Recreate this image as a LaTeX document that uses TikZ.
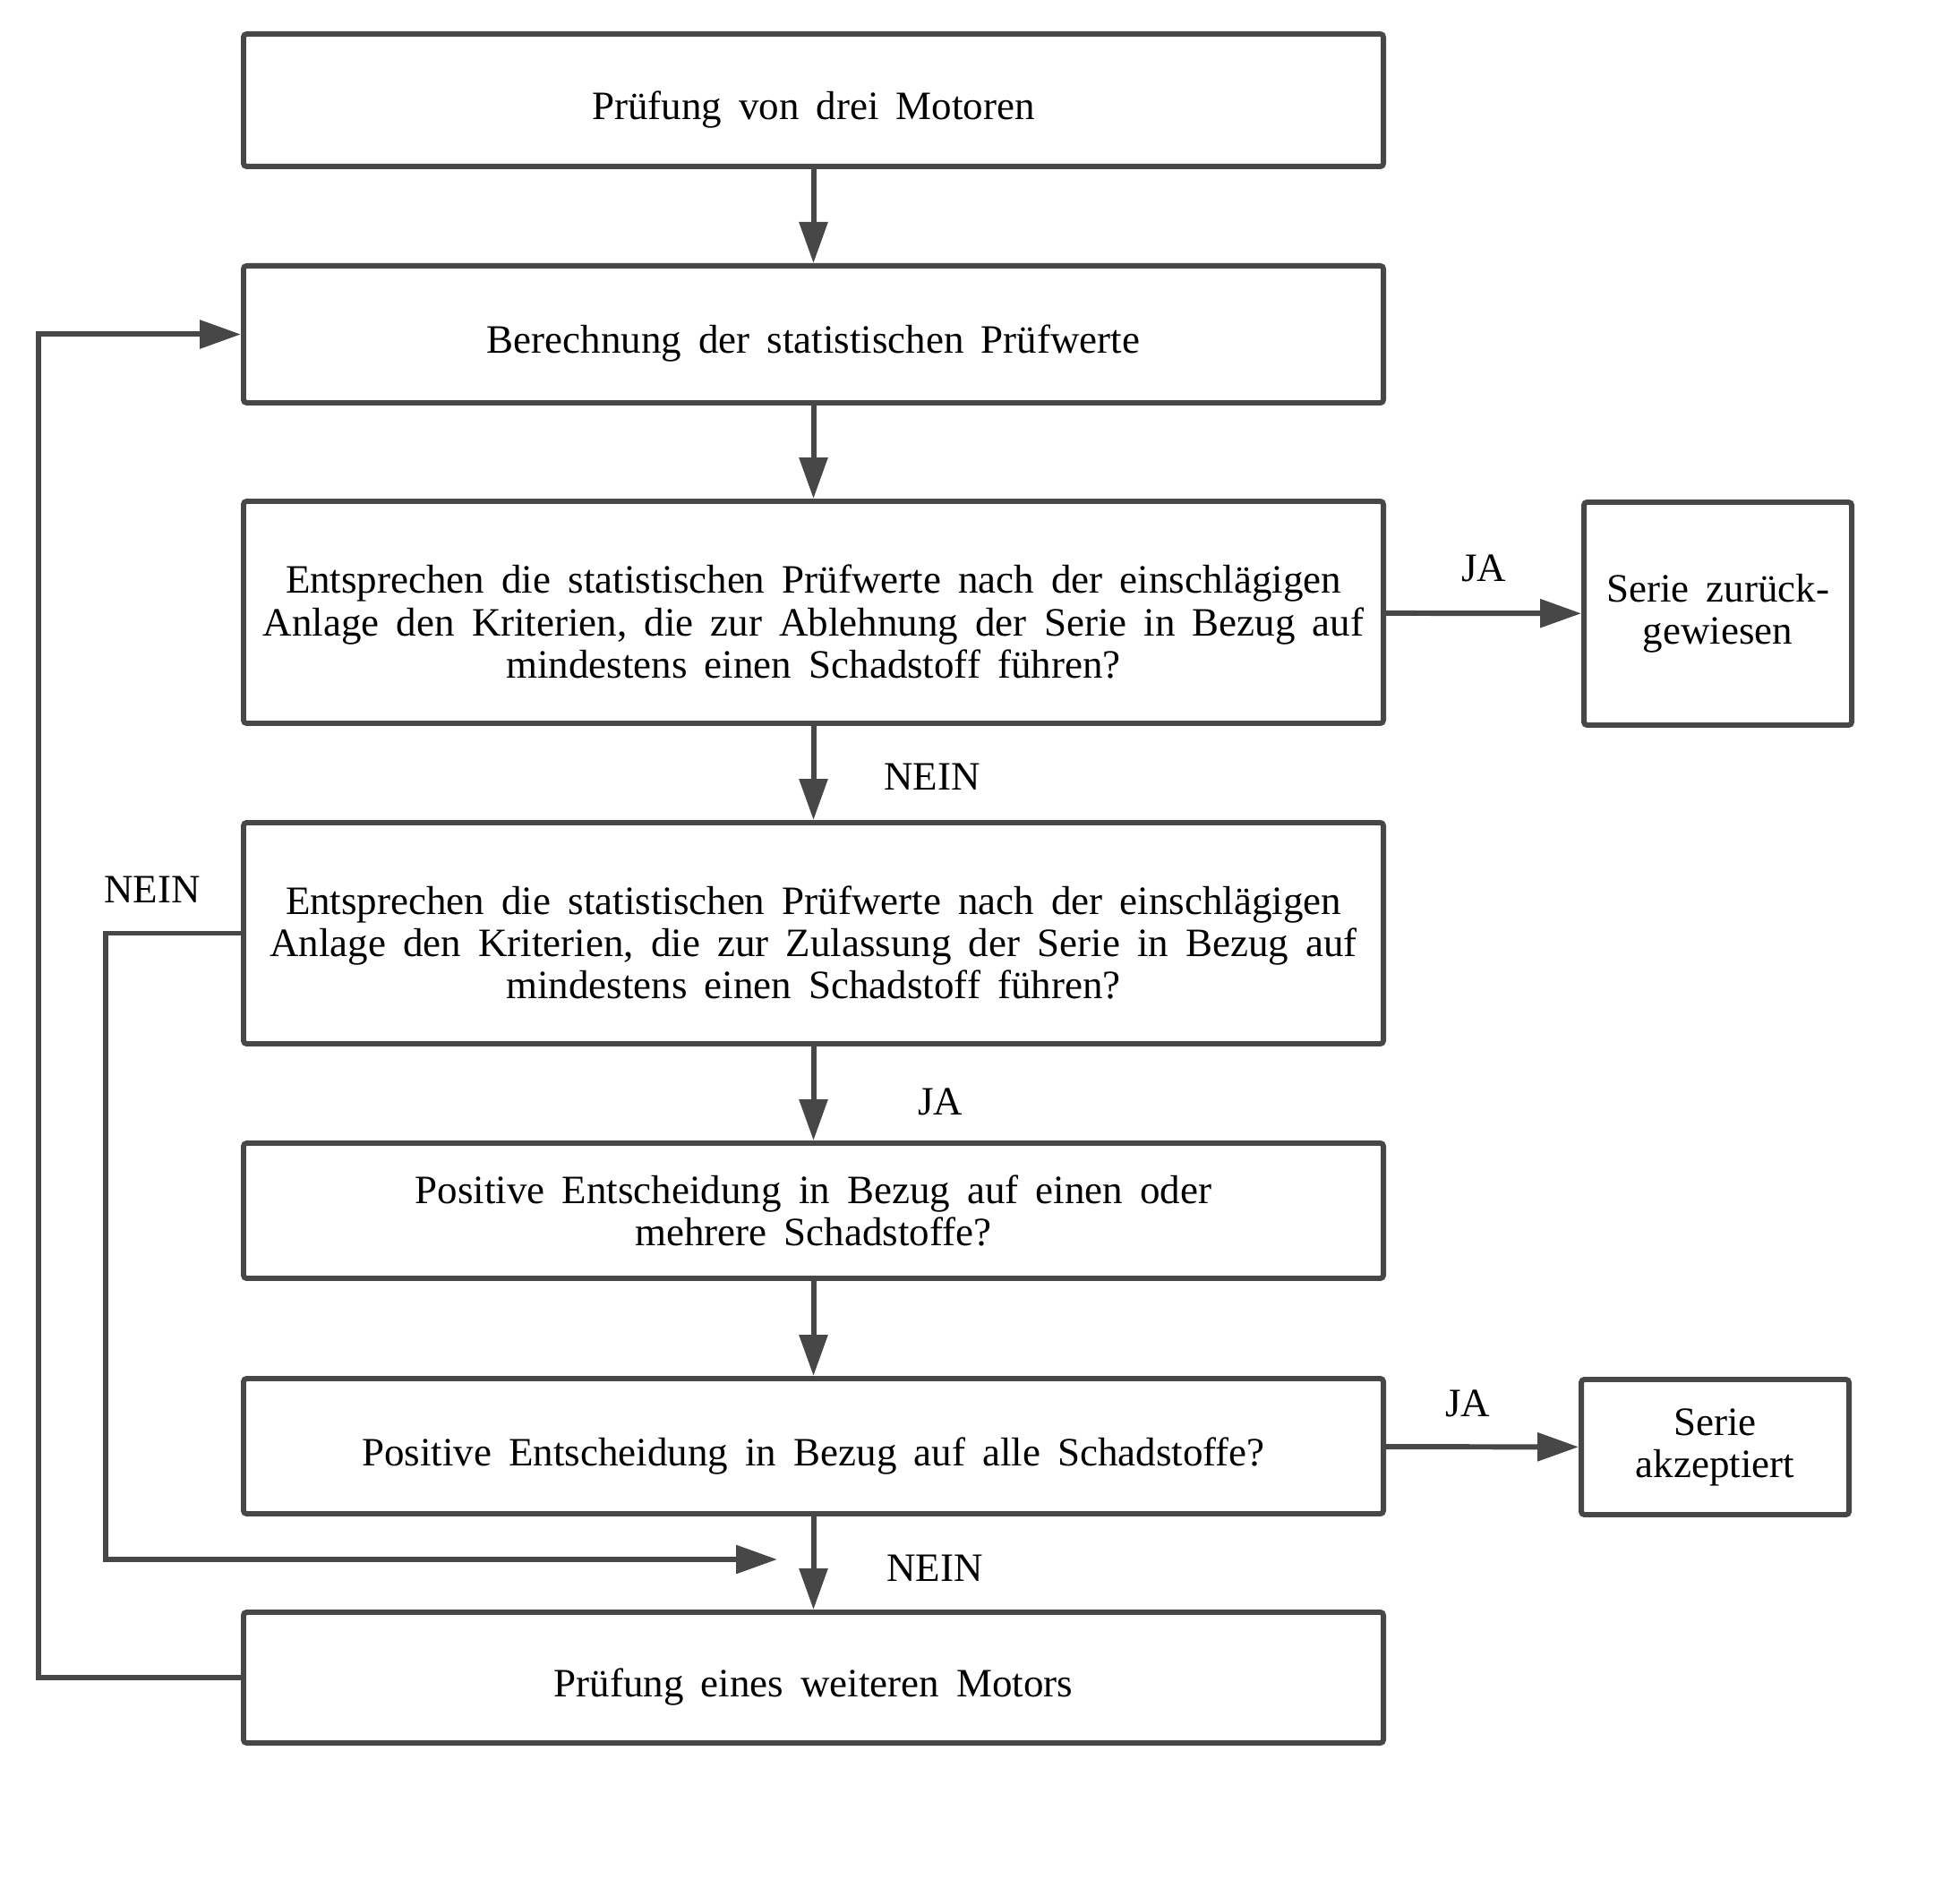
\documentclass[tikz,border=0pt]{standalone}
\usepackage{fontspec}
\setmainfont{Liberation Serif}[WordSpace=1.7]
\usepackage{tikz}
\usetikzlibrary{arrows.meta}
\newcommand{\topstrut}{\rule{0pt}{15pt}}
\tikzset{
  stepbox/.style  = {draw=black!72, line width=1.7pt, rounded corners=1pt,
                     minimum width=12.73cm, align=center, inner sep=0pt,
                     font=\fontsize{12.8}{13.4}\selectfont,
                     execute at begin node={\topstrut}},
  endbox/.style   = {stepbox, minimum width=2.99cm},
  flowar/.style   = {-{Triangle[length=4.6mm,width=3.1mm]}, draw=black!72,
                     line width=1.7pt},
  lbl/.style      = {font=\fontsize{12.8}{13.4}\selectfont}
}

\begin{document}
\begin{tikzpicture}
  \useasboundingbox (0,0) rectangle (21.89,20.98);
  \node[stepbox,minimum height=1.48cm] (d1) at (9.085,19.86)
        {Prüfung von drei Motoren};
  \node[stepbox,minimum height=1.53cm] (d2) at (9.085,17.245)
        {Berechnung der statistischen Prüfwerte};
  \node[stepbox,minimum height=2.48cm] (d3) at (9.085,14.14)
        {\topstrut Entsprechen die statistischen Prüfwerte nach der einschlägigen\\
         Anlage den Kriterien, die zur Ablehnung der Serie in Bezug auf\\
         mindestens einen Schadstoff führen?};
  \node[stepbox,minimum height=2.47cm] (d4) at (9.085,10.555)
        {\topstrut Entsprechen die statistischen Prüfwerte nach der einschlägigen\\
         Anlage den Kriterien, die zur Zulassung der Serie in Bezug auf\\
         mindestens einen Schadstoff führen?};
  \node[stepbox,minimum height=1.51cm] (d5) at (9.085,7.455)
        {Positive Entscheidung in Bezug auf einen oder\\
         mehrere Schadstoffe?};
  \node[stepbox,minimum height=1.51cm] (d6) at (9.085,4.825)
        {Positive Entscheidung in Bezug auf alle Schadstoffe?};
  \node[stepbox,minimum height=1.46cm] (d7) at (9.085,2.24)
        {Prüfung eines weiteren Motors};
  \node[endbox,minimum height=2.49cm] (rej) at (19.185,14.125)
        {Serie zurück-\\gewiesen};
  \node[endbox,minimum height=1.51cm] (acc) at (19.155,4.815)
        {Serie\\akzeptiert};
  % main column
  \draw[flowar] (d1) -- (d2);
  \draw[flowar] (d2) -- (d3);
  \draw[flowar] (d3) -- (d4);
  \draw[flowar] (d4) -- (d5);
  \draw[flowar] (d5) -- (d6);
  \draw[flowar] (d6) -- (d7);
  \draw[flowar] (d3) -- (rej);
  \draw[flowar] (d6) -- (acc);
  % loops back
  \coordinate (back) at (8.68,3.56);
  \draw[flowar] (d4.west) -- ++(-1.51,0) |- (back);
  \draw[flowar] (d7.west) -- ++(-2.26,0) |- (d2.west);
  % answers
  \node[lbl] (ja1)   at (16.57,14.63) {JA};
  \node[lbl] (nein1) at (10.41,12.30) {NEIN};
  \node[lbl] (nein2) at (1.70,11.04)  {NEIN};
  \node[lbl] (ja2)   at (10.50,8.67)  {JA};
  \node[lbl] (ja3)   at (16.39,5.30)  {JA};
  \node[lbl] (nein3) at (10.44,3.46)  {NEIN};
\end{tikzpicture}
\end{document}
